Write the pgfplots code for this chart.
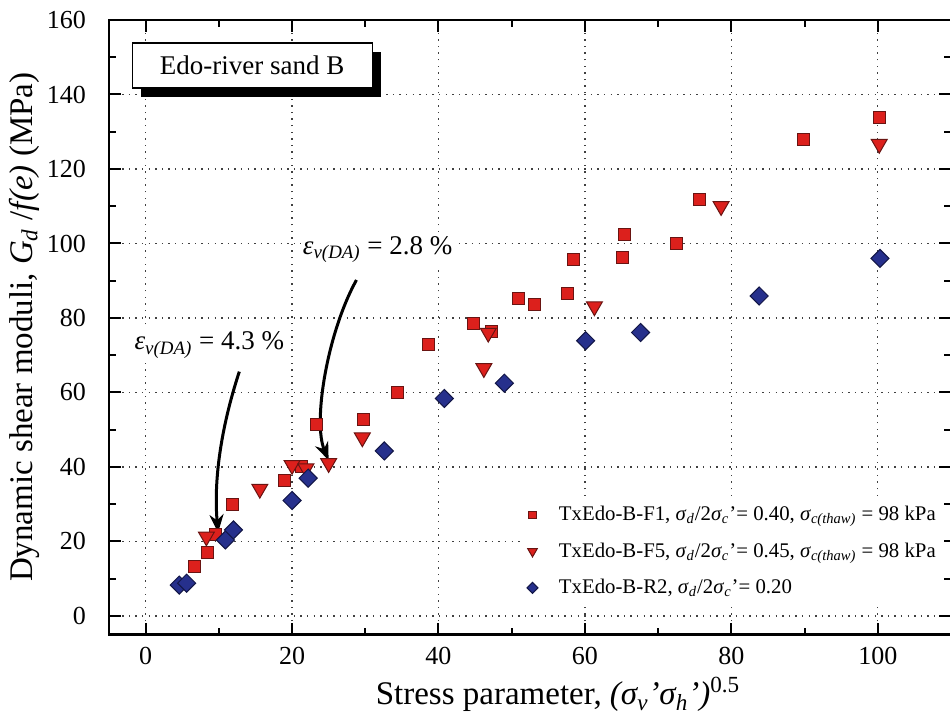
\documentclass[border=0pt]{standalone}
\usepackage{fontspec}
\setmainfont{Liberation Serif}
\usepackage{pgfplots}
\pgfplotsset{compat=1.18}
\usetikzlibrary{shadows,arrows.meta}
\definecolor{redfill}{RGB}{220,32,28}
\definecolor{rededge}{RGB}{105,20,18}
\definecolor{bluefill}{RGB}{38,48,140}
\definecolor{blueedge}{RGB}{18,22,70}
\newcommand{\sub}[1]{\textsubscript{\textit{#1}}}
\newcommand{\gs}{\textit{σ}}
\begin{document}
\begin{tikzpicture}
\begin{axis}[
  at={(0,0)}, anchor=south west,
  scale only axis, width=421pt, height=307.3pt,
  xmin=-5, xmax=110, ymin=-5, ymax=160,
  xtick={0,20,...,100}, ytick={0,20,...,160},
  minor x tick num=1, minor y tick num=1,
  tick align=inside, major tick length=6pt, minor tick length=3.5pt,
  every tick/.style={black, line width=1pt},
  axis line style={line width=1.2pt},
  grid=major,
  major grid style={black!75, line width=0.7pt, dash pattern=on 0.7pt off 2.6pt},
  /pgf/number format/assume math mode=true,
  tick label style={font=\fontsize{13}{15}\selectfont},
  yticklabel style={xshift=-8pt},
  xticklabel style={yshift=-3pt},
  label style={font=\fontsize{16.5}{19}\selectfont},
  xlabel={Stress parameter, \textit{(σ\textsubscript{v}'σ\textsubscript{h}')}\textsuperscript{0.5}},
  ylabel={Dynamic shear moduli, \textit{G}\sub{d} /\textit{f(e)} (MPa)},
  xlabel style={xshift=14pt, yshift=1pt},
  ylabel style={yshift=-3pt},
  legend style={draw=none, fill=white, at={(axis cs:51.5,31.7)}, anchor=north west,
    font=\fontsize{10.4}{12}\selectfont, row sep=5.5pt, inner sep=2pt,
    /tikz/every odd column/.style={column sep=8.5pt}},
  legend cell align=left,
  legend image post style={/tikz/every mark/.append style={scale=0.6}},
]
\addplot[only marks, mark=square*, mark size=3pt, mark options={fill=redfill, draw=rededge, line width=0.5pt}]
coordinates {
(6.7,13.4)(8.5,17.1)(9.5,22.0)(11.9,30.0)(19.0,36.5)(21.3,40.0)(23.3,51.3)
(29.7,52.8)(34.4,60.0)(38.6,72.8)(44.8,78.4)(47.2,76.3)(50.9,85.1)(53.1,83.7)
(57.6,86.6)(58.4,95.8)(65.2,96.3)(65.4,102.3)(72.5,100.0)(75.7,111.7)(89.9,128.0)(100.2,133.8)
};
\addlegendentry{TxEdo-B-F1, \gs\sub{d}/2\gs\sub{c}'= 0.40, \gs\sub{c(thaw)} = 98 kPa}
\addplot[only marks, mark=triangle*, mark size=4.6pt, mark options={rotate=180, fill=redfill, draw=rededge, line width=0.5pt}]
coordinates {
(8.3,21.3)(15.6,34.1)(20.0,40.5)(21.9,39.6)(25.0,41.0)(29.6,47.9)
(46.2,66.5)(46.8,76.0)(61.3,83.1)(78.6,110.0)(100.2,126.7)
};
\addlegendentry{TxEdo-B-F5, \gs\sub{d}/2\gs\sub{c}'= 0.45, \gs\sub{c(thaw)} = 98 kPa}
\addplot[only marks, mark=square*, mark size=3.2pt, mark options={rotate=45, fill=bluefill, draw=blueedge, line width=0.5pt}]
coordinates {
(4.6,8.3)(5.6,8.8)(10.9,20.4)(12.0,23.1)(20.0,31.0)(22.2,37.0)(32.6,44.3)
(40.8,58.4)(49.0,62.5)(60.1,73.9)(67.6,76.1)(83.8,85.9)(100.3,96.0)
};
\addlegendentry{TxEdo-B-R2, \gs\sub{d}/2\gs\sub{c}'= 0.20}

\node[draw=black, line width=0.6pt, fill=white, minimum width=120pt, minimum height=22.5pt,
  drop shadow={shadow xshift=4.5pt, shadow yshift=-4.5pt, fill=black, opacity=1},
  font=\fontsize{13.5}{16}\selectfont] at (axis cs:14.55,147.8) {Edo-river sand B};

\node[font=\fontsize{13.5}{16}\selectfont, fill=white, inner sep=1pt] at (axis cs:8.7,72.7)
  {\textit{ε}\textsubscript{\textit{v(DA)}} = 4.3 \%};
\node[font=\fontsize{13.5}{16}\selectfont, fill=white, inner sep=1pt] at (axis cs:31.7,98.3)
  {\textit{ε}\textsubscript{\textit{v(DA)}} = 2.8 \%};

\draw[line width=1.5pt, -{Stealth[length=9pt,width=7pt]}] (axis cs:12.8,65.6)
  .. controls (axis cs:10.2,50) and (axis cs:9.3,36) .. (axis cs:9.9,22.4);
\draw[line width=1.5pt, -{Stealth[length=9pt,width=7pt]}] (axis cs:28.8,90.2)
  .. controls (axis cs:24.8,76) and (axis cs:22.8,52) .. (axis cs:25.0,41.8);
\end{axis}
\pgfresetboundingbox
\path[use as bounding box] (-54.5pt,-43.7pt) rectangle (420.5pt,317.3pt);
\end{tikzpicture}
\end{document}
